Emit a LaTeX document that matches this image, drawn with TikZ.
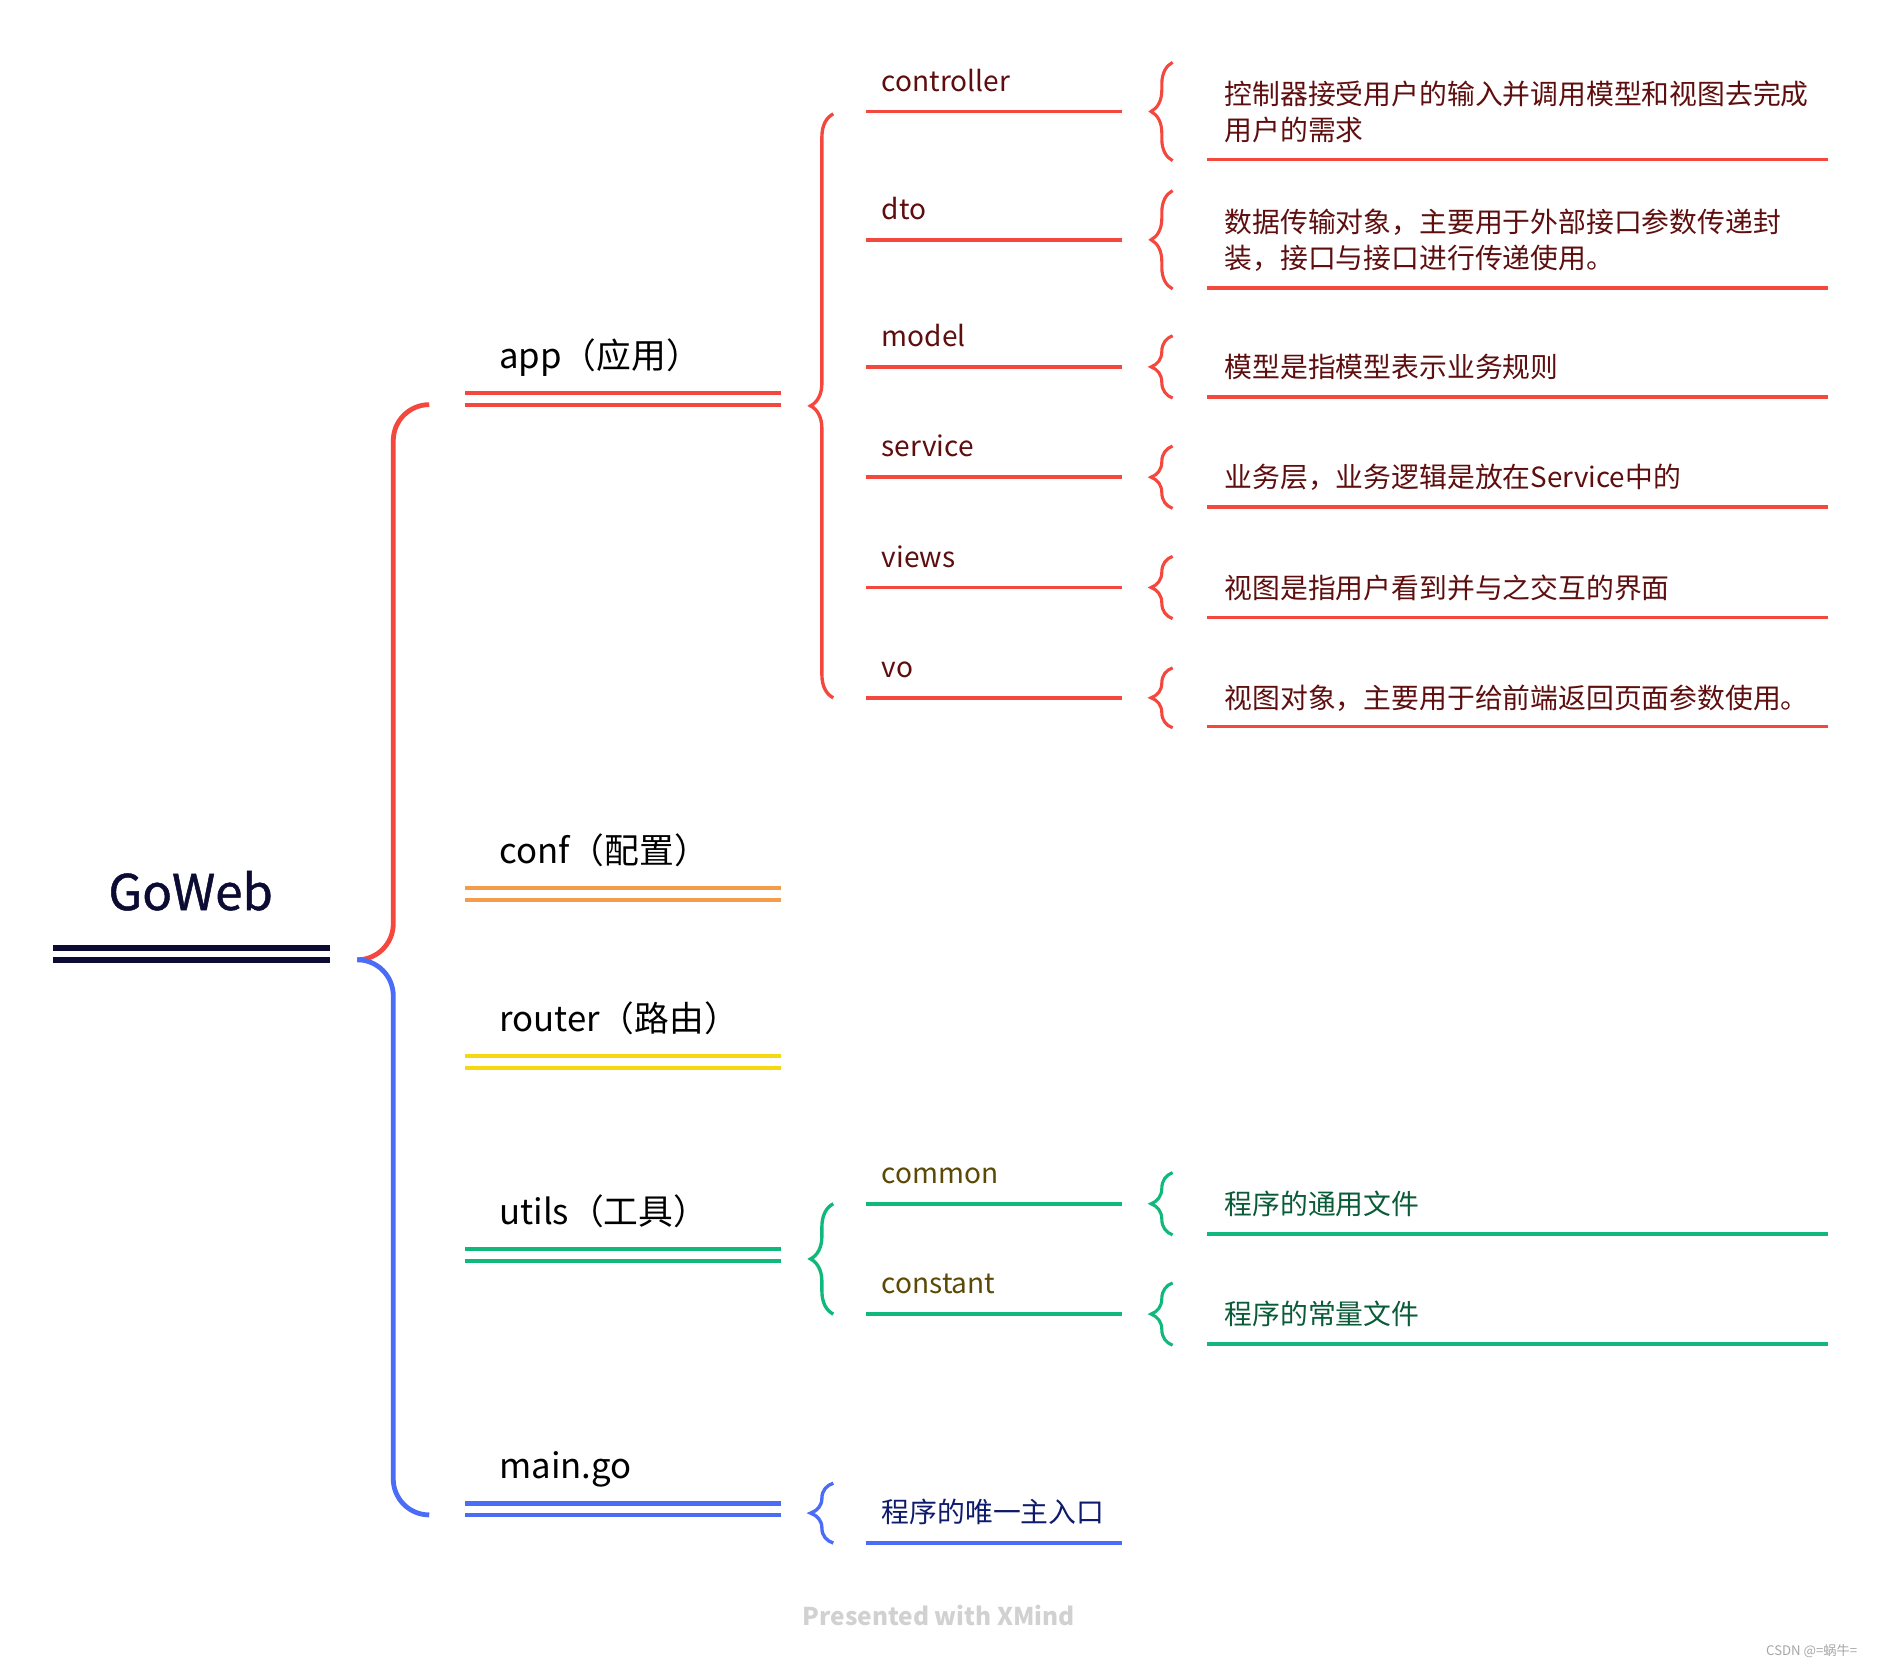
\documentclass[tikz,border=0pt]{standalone}
\usepackage{fontspec}
\setmainfont{Noto Sans CJK SC}
\newfontfamily\rootfont[FakeBold=1]{Noto Sans CJK SC}
\usetikzlibrary{decorations.pathreplacing,positioning}

\definecolor{rootNavy}{HTML}{0B0B33}
\definecolor{appRed}{HTML}{F4473D}
\definecolor{confOrange}{HTML}{F39C4A}
\definecolor{routerYellow}{HTML}{F5D80F}
\definecolor{utilsGreen}{HTML}{10B97B}
\definecolor{mainBlue}{HTML}{4A6CF6}
\definecolor{redText}{HTML}{5E0E0E}
\definecolor{oliveText}{HTML}{5B4A05}
\definecolor{greenText}{HTML}{0A5B38}
\definecolor{blueText}{HTML}{0E1A6B}

\tikzset{
  rootlabel/.style={font=\rootfont\fontsize{20.5}{25}\selectfont, text=rootNavy, anchor=base, inner sep=0pt},
  rootline/.style={line width=2.3pt, rootNavy},
  topic/.style={font=\fontsize{14.5}{17}\selectfont, anchor=base west, inner sep=0pt},
  subtopic/.style={font=\fontsize{11.7}{14}\selectfont, anchor=base west, inner sep=0pt},
  note/.style={font=\fontsize{11.6}{15}\selectfont, anchor=west, inner sep=0pt, align=left},
  dblline/.style={line width=1.7pt},
  uline/.style={line width=1.5pt},
  trunk/.style={line width=2pt, rounded corners=15pt},
  subbrace/.style={line width=1.4pt, decorate, decoration={brace, amplitude=9.5pt}},
  notebrace/.style={line width=1.3pt, decorate, decoration={brace, amplitude=9pt}},
}

\begin{document}
\begin{tikzpicture}[x=0.5pt, y=-0.5pt]
\useasboundingbox (0,0) rectangle (1568,1390);

% Root topic
\node[rootlabel] (root) at (159,759) {GoWeb};
\draw[rootline] (44,790.5) -- (275,790.5);
\draw[rootline] (44,800.5) -- (275,800.5);
\coordinate (rootJ) at (298,800.5);
\coordinate (spine) at (328,800.5);

% Main topics (double underline)
\foreach \name/\txt/\y/\col in {app/app（应用）/328/appRed, conf/conf（配置）/741/confOrange, router/router（路由）/881/routerYellow, utils/utils（工具）/1042/utilsGreen, main/main.go/1254/mainBlue} {
    \node[topic] (\name) at (416,\y-21) {\txt};
    \coordinate (\name-l) at (388,\y+9.5);
    \coordinate (\name-r) at (651,\y+9.5);
    \coordinate (\name-j) at (358,\y+9.5);
    \draw[dblline,\col] (388,\y) -- (651,\y);
    \draw[dblline,\col] (\name-l) -- (\name-r);
}

% Trunk brace
\draw[trunk, appRed] (app-j) -| (spine) -- (rootJ);
\draw[trunk, mainBlue] (rootJ) -- (spine) |- (main-j);

% Sub braces
\draw[subbrace, appRed] (695,582) -- (695,95);
\draw[subbrace, utilsGreen] (695,1096) -- (695,1004);
\draw[subbrace, mainBlue] (695,1287) -- (695,1237);

% Subtopics of app
\foreach \name/\txt/\y in {ctrl/controller/93, dto/dto/200, model/model/306, service/service/398, views/views/490, vo/vo/582} {
    \node[subtopic, text=redText] (\name) at (735,\y-17) {\txt};
    \draw[uline, appRed] (722,\y) -- (936,\y);
}

% Subtopics of utils
\foreach \name/\txt/\y in {common/common/1004, constant/constant/1096} {
    \node[subtopic, text=oliveText] (\name) at (735,\y-17) {\txt};
    \draw[uline, utilsGreen] (722,\y) -- (936,\y);
}

% Note of main.go
\node[note, text=blueText] (entry) at (735,1261) {程序的唯一主入口};
\draw[uline, mainBlue] (722,1287) -- (936,1287);

% Notes of app
\foreach \name/\ytip/\yline/\txt in {
    ctrl/93/133/{控制器接受用户的输入并调用模型和视图去完成\\用户的需求},
    dto/200/240/{数据传输对象，主要用于外部接口参数传递封\\装，接口与接口进行传递使用。},
    model/306/331/{模型是指模型表示业务规则},
    service/398/423/{业务层，业务逻辑是放在Service中的},
    views/490/515/{视图是指用户看到并与之交互的界面},
    vo/582/606/{视图对象，主要用于给前端返回页面参数使用。}} {
    \node[note, text=redText] (\name-note) at (1021,\ytip) {\txt};
    \draw[uline, appRed] (1007,\yline) -- (1525,\yline);
    \draw[notebrace, appRed] (978,\yline+1) -- (978,2*\ytip-\yline-1);
}

% Notes of utils
\foreach \name/\ytip/\yline/\txt in {common/1004/1029/程序的通用文件, constant/1096/1121/程序的常量文件} {
    \node[note, text=greenText] (\name-note) at (1021,\ytip) {\txt};
    \draw[uline, utilsGreen] (1007,\yline) -- (1525,\yline);
    \draw[notebrace, utilsGreen] (978,\yline+1) -- (978,2*\ytip-\yline-1);
}

% Footer
\node[font=\fontsize{10.2}{12}\selectfont\bfseries, text=black!18] (xmind) at (783,1347) {Presented with XMind};
\node[font=\fontsize{5.5}{6}\selectfont, text=black!35, anchor=east] (csdn) at (1556,1377) {CSDN @=蜗牛=};
\end{tikzpicture}
\end{document}
